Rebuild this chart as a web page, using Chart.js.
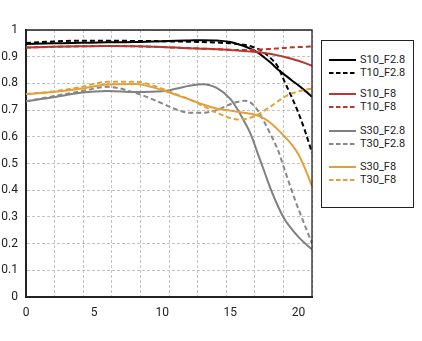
<!DOCTYPE html>
<html>
<head>
<meta charset="utf-8">
<script src="https://cdn.jsdelivr.net/npm/chart.js@4.4.1/dist/chart.umd.min.js"></script>
<style>
  html, body { margin: 0; padding: 0; background: #fff; }
  #wrap { position: relative; width: 422px; height: 341px; }
  #legend { position: absolute; left: 321px; top: 40px; width: 91px; height: 166px; border: 1px solid #222; background: #fff; font-family: Roboto, sans-serif; font-size: 11px; color: #222; }
  .row { position: absolute; left: 0; height: 12px; line-height: 12px; white-space: nowrap; }
  .row svg { position: absolute; left: 7px; top: 0; }
  .row span { position: absolute; left: 38px; top: 0; }
</style>
</head>
<body>
<div id="wrap">
  <canvas id="mtf" width="422" height="341"></canvas>
  <div id="legend"></div>
</div>
<script>
// image height (mm) sample points shared by all curves
const xPos = [0, 2, 4, 6, 8, 10, 11, 12, 13, 14, 15, 15.5, 16, 16.5, 17, 17.5, 18, 18.5, 19, 19.5, 20, 20.5, 21];
const xMax = 21;

const s10F28 = [0.948, 0.950, 0.952, 0.954, 0.955, 0.958, 0.960, 0.961, 0.962, 0.961, 0.955, 0.948, 0.940, 0.929, 0.916, 0.897, 0.876, 0.852, 0.832, 0.812, 0.793, 0.772, 0.750];
const t10F28 = [0.951, 0.957, 0.960, 0.960, 0.959, 0.958, 0.957, 0.956, 0.955, 0.953, 0.950, 0.948, 0.945, 0.939, 0.930, 0.915, 0.893, 0.862, 0.805, 0.750, 0.690, 0.620, 0.540];
const s10F8  = [0.934, 0.937, 0.939, 0.940, 0.939, 0.936, 0.934, 0.932, 0.930, 0.928, 0.925, 0.923, 0.921, 0.919, 0.917, 0.914, 0.910, 0.905, 0.899, 0.892, 0.885, 0.876, 0.866];
const t10F8  = [0.934, 0.937, 0.939, 0.940, 0.939, 0.936, 0.934, 0.932, 0.930, 0.928, 0.926, 0.925, 0.925, 0.925, 0.926, 0.928, 0.929, 0.931, 0.933, 0.935, 0.936, 0.937, 0.938];
const s30F28 = [0.733, 0.748, 0.765, 0.772, 0.768, 0.771, 0.780, 0.791, 0.797, 0.783, 0.742, 0.705, 0.660, 0.610, 0.540, 0.470, 0.400, 0.340, 0.290, 0.255, 0.225, 0.200, 0.178];
const t30F28 = [0.733, 0.752, 0.770, 0.787, 0.765, 0.725, 0.703, 0.690, 0.690, 0.700, 0.722, 0.730, 0.735, 0.728, 0.700, 0.655, 0.605, 0.550, 0.475, 0.400, 0.330, 0.265, 0.200];
const s30F8  = [0.760, 0.768, 0.780, 0.796, 0.798, 0.775, 0.757, 0.740, 0.721, 0.706, 0.698, 0.694, 0.690, 0.686, 0.680, 0.668, 0.650, 0.627, 0.600, 0.572, 0.535, 0.480, 0.415];
const t30F8  = [0.760, 0.770, 0.786, 0.806, 0.806, 0.780, 0.760, 0.740, 0.715, 0.690, 0.670, 0.665, 0.666, 0.672, 0.683, 0.698, 0.715, 0.733, 0.750, 0.762, 0.770, 0.776, 0.780];

const xTicks = [0, 5, 10, 15, 20];
const yTicks = [0, 0.1, 0.2, 0.3, 0.4, 0.5, 0.6, 0.7, 0.8, 0.9, 1];

const series = [
  { label: 'S10_F2.8', data: s10F28, color: '#000000', dash: [] },
  { label: 'T10_F2.8', data: t10F28, color: '#000000', dash: [5, 3] },
  { label: 'S10_F8',   data: s10F8,  color: '#b8382e', dash: [] },
  { label: 'T10_F8',   data: t10F8,  color: '#b8382e', dash: [5, 3] },
  { label: 'S30_F2.8', data: s30F28, color: '#808080', dash: [] },
  { label: 'T30_F2.8', data: t30F28, color: '#888888', dash: [5, 3] },
  { label: 'S30_F8',   data: s30F8,  color: '#e3a03a', dash: [] },
  { label: 'T30_F8',   data: t30F8,  color: '#e3a03a', dash: [5, 3] }
];

Chart.defaults.font.family = 'Roboto, sans-serif';
Chart.defaults.color = '#222';

// frame on top and right of the plot
const frame = {
  id: 'frame',
  afterDraw(chart) {
    const a = chart.chartArea, c = chart.ctx;
    c.save();
    c.strokeStyle = '#222';
    c.lineWidth = 1.3;
    c.beginPath();
    c.moveTo(a.left, a.top);
    c.lineTo(a.right, a.top);
    c.lineTo(a.right, a.bottom);
    c.stroke();
    c.restore();
  }
};

new Chart(document.getElementById('mtf'), {
  type: 'line',
  data: {
    datasets: series.map(s => ({
      label: s.label,
      data: s.data.map((v, i) => ({ x: xPos[i], y: v })),
      borderColor: s.color,
      borderDash: s.dash,
      borderWidth: 2,
      pointRadius: 0,
      fill: false,
      cubicInterpolationMode: 'monotone'
    })).reverse()
  },
  options: {
    responsive: false,
    animation: false,
    devicePixelRatio: 1,
    layout: { padding: { top: 30, right: 110, left: 0, bottom: 0 } },
    plugins: { legend: { display: false }, tooltip: { enabled: false } },
    scales: {
      x: {
        type: 'linear', position: 'bottom', min: 0, max: xMax,
        afterBuildTicks: s => { s.ticks = xTicks.map(v => ({ value: v })); },
        afterFit: s => { s.height = 44; },
        ticks: { font: { size: 12 }, padding: 9, maxRotation: 0 },
        grid: { display: false, drawTicks: false },
        border: { color: '#222', width: 2 }
      },
      xg: {
        type: 'linear', position: 'bottom', min: 0, max: xMax,
        afterBuildTicks: s => { s.ticks = Array.from({ length: 11 }, (_, i) => ({ value: i * xMax / 10 })); },
        afterFit: s => { s.height = 0; },
        ticks: { display: false },
        grid: { color: '#c4c4c4', lineWidth: 1, drawTicks: false },
        border: { display: false, dash: [3, 2] }
      },
      y: {
        min: 0, max: 1,
        afterBuildTicks: s => { s.ticks = yTicks.map(v => ({ value: v })); },
        afterFit: s => { s.width = 26; },
        ticks: { font: { size: 12 }, padding: 8, callback: v => String(+v.toFixed(1)) },
        grid: { color: '#c4c4c4', lineWidth: 1, drawTicks: false },
        border: { color: '#222', width: 2, dash: [3, 2] }
      }
    }
  },
  plugins: [frame]
});

// legend box, grouped in pairs
const legendTops = [13, 26, 47, 60, 84, 97, 120, 133];
const legendEl = document.getElementById('legend');
series.forEach((s, i) => {
  const row = document.createElement('div');
  row.className = 'row';
  row.style.top = legendTops[i] + 'px';
  const dash = s.dash.length ? 'stroke-dasharray="4.5 2.5"' : '';
  row.innerHTML = `<svg width="28" height="12"><line x1="0" y1="6" x2="27" y2="6" stroke="${s.color}" stroke-width="2" ${dash}/></svg><span>${s.label}</span>`;
  legendEl.appendChild(row);
});
</script>
</body>
</html>
